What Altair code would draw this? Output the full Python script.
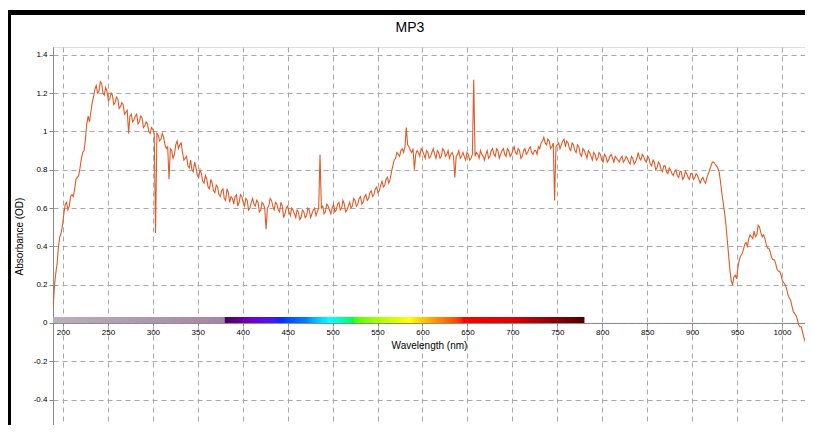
import altair as alt
import pandas as pd

TITLE = "MP3"
X_TITLE = "Wavelength (nm)"
Y_TITLE = "Absorbance (OD)"

# readings every 3 nm starting at 189 nm
WL_START = 189
WL_STEP = 3
ABSORBANCE = [
    0.08, 0.26, 0.40, 0.47, 0.57, 0.63, 0.61, 0.67, 0.70, 0.76,
    0.81, 0.89, 0.96, 1.08, 1.10, 1.18, 1.24, 1.21, 1.25, 1.19,
    1.21, 1.17, 1.19, 1.15, 1.17, 1.13, 1.14, 1.10, 0.99, 1.09,
    1.06, 1.09, 1.05, 1.07, 1.03, 1.04, 0.99, 1.01, 0.47, 0.98,
    0.96, 0.97, 0.91, 0.75, 0.90, 0.88, 0.95, 0.93, 0.89, 0.86,
    0.82, 0.85, 0.79, 0.81, 0.76, 0.78, 0.73, 0.75, 0.70, 0.73,
    0.68, 0.71, 0.66, 0.70, 0.64, 0.68, 0.66, 0.62, 0.67, 0.63,
    0.66, 0.61, 0.64, 0.60, 0.65, 0.61, 0.63, 0.59, 0.62, 0.49,
    0.61, 0.64, 0.59, 0.62, 0.58, 0.61, 0.57, 0.61, 0.56, 0.59,
    0.55, 0.58, 0.55, 0.58, 0.56, 0.59, 0.57, 0.60, 0.58, 0.88,
    0.61, 0.58, 0.61, 0.57, 0.62, 0.59, 0.63, 0.60, 0.62, 0.59,
    0.63, 0.61, 0.64, 0.62, 0.66, 0.63, 0.67, 0.65, 0.69, 0.67,
    0.71, 0.69, 0.74, 0.72, 0.76, 0.75, 0.82, 0.86, 0.88, 0.90,
    0.89, 1.02, 0.92, 0.89, 0.80, 0.90, 0.87, 0.90, 0.86, 0.89,
    0.87, 0.91, 0.86, 0.89, 0.87, 0.90, 0.88, 0.86, 0.89, 0.76,
    0.88, 0.86, 0.89, 0.85, 0.88, 0.86, 1.27, 0.89, 0.86, 0.88,
    0.85, 0.90, 0.87, 0.91, 0.87, 0.90, 0.88, 0.91, 0.87, 0.90,
    0.88, 0.92, 0.88, 0.90, 0.87, 0.91, 0.89, 0.92, 0.88, 0.90,
    0.92, 0.94, 0.97, 0.93, 0.95, 0.92, 0.64, 0.93, 0.91, 0.95,
    0.92, 0.94, 0.90, 0.93, 0.89, 0.92, 0.87, 0.90, 0.86, 0.89,
    0.85, 0.88, 0.86, 0.88, 0.84, 0.87, 0.85, 0.88, 0.84, 0.86,
    0.84, 0.87, 0.85, 0.86, 0.83, 0.86, 0.84, 0.89, 0.85, 0.87,
    0.84, 0.86, 0.82, 0.84, 0.81, 0.83, 0.79, 0.82, 0.78, 0.80,
    0.77, 0.80, 0.76, 0.79, 0.76, 0.78, 0.75, 0.78, 0.76, 0.77,
    0.73, 0.76, 0.73, 0.78, 0.82, 0.84, 0.82, 0.79, 0.68, 0.58,
    0.44, 0.28, 0.20, 0.25, 0.29, 0.35, 0.38, 0.42, 0.44, 0.45,
    0.48, 0.46, 0.50, 0.45, 0.44, 0.39, 0.37, 0.33, 0.31, 0.27,
    0.25, 0.21, 0.18, 0.13, 0.09, 0.05, 0.02, -0.02, -0.05, -0.10,
    -0.14, -0.19, -0.22,
]
# readings halfway between (at 190.5, 193.5, ... nm)
ABSORBANCE_MID = [
    0.19, 0.31, 0.45, 0.51, 0.62, 0.59, 0.66, 0.66, 0.75, 0.77,
    0.86, 0.90, 1.04, 1.05, 1.15, 1.22, 1.20, 1.26, 1.20, 1.23,
    1.16, 1.20, 1.14, 1.18, 1.12, 1.15, 1.09, 1.11, 1.08, 1.05,
    1.08, 1.04, 1.08, 1.02, 1.05, 1.00, 1.02, 0.99, 0.99, 0.95,
    0.99, 0.93, 0.92, 0.91, 0.86, 0.93, 0.91, 0.94, 0.85, 0.87,
    0.81, 0.80, 0.84, 0.77, 0.80, 0.74, 0.77, 0.71, 0.75, 0.69,
    0.72, 0.67, 0.69, 0.65, 0.70, 0.63, 0.65, 0.66, 0.61, 0.67,
    0.63, 0.65, 0.59, 0.63, 0.62, 0.64, 0.58, 0.63, 0.60, 0.60,
    0.65, 0.61, 0.63, 0.59, 0.63, 0.55, 0.60, 0.58, 0.60, 0.57,
    0.59, 0.54, 0.59, 0.55, 0.60, 0.55, 0.59, 0.56, 0.60, 0.60,
    0.57, 0.62, 0.59, 0.60, 0.58, 0.62, 0.59, 0.64, 0.58, 0.61,
    0.60, 0.65, 0.61, 0.65, 0.62, 0.66, 0.64, 0.68, 0.66, 0.70,
    0.68, 0.72, 0.71, 0.75, 0.73, 0.79, 0.85, 0.89, 0.87, 0.91,
    0.92, 0.93, 0.90, 0.91, 0.88, 0.89, 0.91, 0.88, 0.90, 0.86,
    0.89, 0.88, 0.90, 0.86, 0.91, 0.87, 0.90, 0.88, 0.87, 0.87,
    0.90, 0.87, 0.87, 0.89, 0.85, 0.88, 0.87, 0.88, 0.90, 0.87,
    0.88, 0.86, 0.90, 0.88, 0.91, 0.86, 0.90, 0.88, 0.91, 0.87,
    0.90, 0.89, 0.91, 0.86, 0.90, 0.88, 0.91, 0.89, 0.90, 0.88,
    0.91, 0.95, 0.94, 0.96, 0.91, 0.94, 0.92, 0.94, 0.93, 0.96,
    0.95, 0.91, 0.94, 0.90, 0.93, 0.88, 0.91, 0.88, 0.90, 0.87,
    0.89, 0.85, 0.89, 0.85, 0.88, 0.84, 0.87, 0.86, 0.87, 0.85,
    0.86, 0.84, 0.87, 0.84, 0.87, 0.83, 0.86, 0.86, 0.88, 0.85,
    0.87, 0.83, 0.85, 0.80, 0.84, 0.80, 0.82, 0.79, 0.81, 0.78,
    0.79, 0.77, 0.79, 0.75, 0.79, 0.76, 0.78, 0.75, 0.78, 0.75,
    0.75, 0.74, 0.76, 0.80, 0.84, 0.83, 0.81, 0.74, 0.63, 0.52,
    0.36, 0.22, 0.24, 0.23, 0.33, 0.36, 0.41, 0.40, 0.46, 0.44,
    0.45, 0.51, 0.47, 0.46, 0.41, 0.39, 0.34, 0.33, 0.28, 0.27,
    0.22, 0.20, 0.15, 0.12, 0.06, 0.04, -0.01, -0.02, -0.08, -0.11,
    -0.17, -0.20,
]

X_TICKS = [200, 250, 300, 350, 400, 450, 500, 550, 600, 650, 700, 750, 800, 850, 900, 950, 1000]
Y_TICKS = [-0.4, -0.2, 0, 0.2, 0.4, 0.6, 0.8, 1, 1.2, 1.4]
X_DOMAIN = [188.9, 1025.6]
Y_DOMAIN = [-0.533, 1.441]

# visible-spectrum strip drawn along the zero line
BAR_STOPS = [189, 379, 380, 410, 440, 470, 495, 525, 560, 585, 615, 645, 700, 780]
BAR_COLORS = ["#bab0bc", "#a585a5", "#4b0060", "#7000d0", "#2020ff", "#0080ff",
              "#00ffff", "#40ff00", "#c0ff00", "#ffff00", "#ff9000", "#ff0000",
              "#e00000", "#500000"]
BAR_TOP = 0.031

W, H = 752, 378
LINE_COLOR = "#e05a28"
GRID_COLOR = "#a8a8a8"
FONT = "Liberation Sans"

rows = [(WL_START + WL_STEP * i, v) for i, v in enumerate(ABSORBANCE)]
rows += [(WL_START + WL_STEP * i + WL_STEP / 2, v) for i, v in enumerate(ABSORBANCE_MID)]
rows.sort()
spec_df = pd.DataFrame(rows, columns=["wl", "abs"])

bar_wl = list(range(BAR_STOPS[0], BAR_STOPS[-1]))
bar_df = pd.DataFrame({
    "wl": bar_wl,
    "wl2": [min(w + 2.5, BAR_STOPS[-1]) for w in bar_wl],
    "y0": [0.0] * len(bar_wl),
    "y1": [BAR_TOP] * len(bar_wl),
})

xscale = alt.Scale(domain=X_DOMAIN, nice=False, zero=False)
yscale = alt.Scale(domain=Y_DOMAIN, nice=False, zero=False)

zero_px = H * (Y_DOMAIN[1] - 0) / (Y_DOMAIN[1] - Y_DOMAIN[0])
x_offset = -(H - zero_px)

line = alt.Chart(spec_df).mark_line(color=LINE_COLOR, strokeWidth=1.1, clip=True).encode(
    x=alt.X("wl:Q", scale=xscale,
            axis=alt.Axis(values=X_TICKS, title=X_TITLE, offset=x_offset,
                          labelExpr="toString(datum.value)",
                          labelFontSize=8, tickSize=3, labelPadding=3,
                          titleFontSize=10, titleFontWeight="normal", titlePadding=4,
                          grid=True, gridDash=[5, 4], gridColor=GRID_COLOR)),
    y=alt.Y("abs:Q", scale=yscale,
            axis=alt.Axis(values=Y_TICKS, title=Y_TITLE, labelExpr="toString(datum.value)",
                          labelFontSize=8, tickSize=4, labelPadding=2,
                          titleFontSize=10, titleFontWeight="normal", titlePadding=9,
                          grid=True, gridDash=[5, 4], gridColor=GRID_COLOR)),
)

bar = alt.Chart(bar_df).mark_rect(clip=True).encode(
    x=alt.X("wl:Q", scale=xscale),
    x2="wl2:Q",
    y=alt.Y("y0:Q", scale=yscale),
    y2="y1:Q",
    color=alt.Color("wl:Q", scale=alt.Scale(domain=BAR_STOPS, range=BAR_COLORS), legend=None),
)

title = alt.Chart(alt.Data(values=[{"t": TITLE}])).mark_text(
    fontSize=14, font=FONT, color="black", align="center", baseline="alphabetic", clip=False
).encode(x=alt.value(W / 2 - 19), y=alt.value(-15), text="t:N")

frame_top = alt.Chart(alt.Data(values=[{}])).mark_rect(color="black", clip=False).encode(
    x=alt.value(-45), x2=alt.value(W), y=alt.value(-37), y2=alt.value(-32)
)
frame_left = alt.Chart(alt.Data(values=[{}])).mark_rect(color="black", clip=False).encode(
    x=alt.value(-45), x2=alt.value(-42), y=alt.value(-37), y2=alt.value(H)
)

chart = alt.layer(bar, line, title, frame_top, frame_left).properties(
    width=W, height=H,
    autosize=alt.AutoSizeParams(type="none"),
    padding={"left": 45, "top": 39, "right": 0, "bottom": 0},
).configure_view(stroke=None).configure_axis(
    labelFont=FONT, titleFont=FONT,
    labelColor="#222", titleColor="#222",
    domainColor="black", domainWidth=1, tickColor="black",
).configure(background="white")

chart.save("out.html", embed_options={"renderer": "svg", "actions": False})
